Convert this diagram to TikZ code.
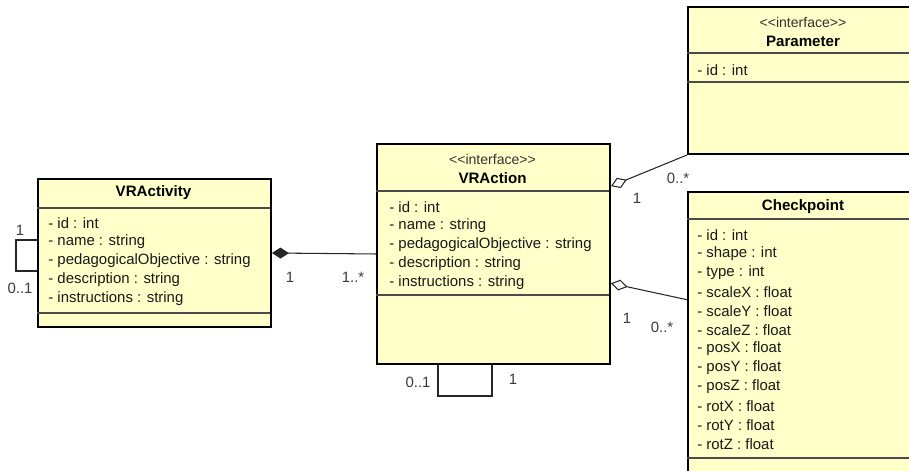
\documentclass[tikz,border=0pt]{standalone}
\usepackage{fontspec}
\setmainfont{Liberation Sans}[Ligatures=TeXOff]
\usetikzlibrary{arrows.meta}
\definecolor{classfill}{HTML}{FFFFCA}
\definecolor{sepgray}{HTML}{4A4A4A}
\definecolor{multgray}{HTML}{3A3A3A}
\tikzset{
    classbox/.style={draw=black, line width=1.15pt, fill=classfill, inner sep=0pt, anchor=north west},
    sep/.style={draw=sepgray, line width=0.6pt},
    cname/.style={inner sep=0pt, font=\fontsize{8.6}{10}\selectfont\bfseries},
    stereo/.style={inner sep=0pt, font=\fontsize{8}{10}\selectfont, text=black!80},
    attr/.style={anchor=west, inner sep=0pt, font=\fontsize{8.5}{10}\selectfont, text=black!90},
    mult/.style={inner sep=0pt, font=\fontsize{8.5}{10}\selectfont, text=multgray},
    assoc/.style={draw=black!85, line width=0.6pt},
}

\begin{document}
\begin{tikzpicture}[x=0.02cm,y=0.02cm]
    \clip (0,0) rectangle (909,470);

    % VRActivity
    \node[classbox, minimum width=4.66cm, minimum height=2.96cm] (act) at (37,292) {};
    \draw[sep] (37,262) -- (270,262);
    \draw[sep] (37,157) -- (270,157);
    \node[cname] (act-name) at (153.5,277) {VRActivity};
    \foreach \t [count=\i] in {- id : int, - name : string, - pedagogicalObjective : string,
        - description : string, - instructions : string}
        \node[attr] (act-\i) at (48,266-19*\i) {\t};

    % VRAction
    \node[classbox, minimum width=4.66cm, minimum height=4.4cm] (action) at (376,327) {};
    \draw[sep] (376,279) -- (609,279);
    \draw[sep] (376,175) -- (609,175);
    \node[stereo] (action-st) at (492.5,311) {<<interface>>};
    \node[cname] (action-name) at (492.5,292) {VRAction};
    \foreach \t [count=\i] in {- id : int, - name : string, - pedagogicalObjective : string,
        - description : string, - instructions : string}
        \node[attr] (action-\i) at (389,282-19*\i) {\t};

    % Parameter
    \node[classbox, minimum width=4.64cm, minimum height=2.94cm] (param) at (687,464) {};
    \draw[sep] (687,417) -- (919,417);
    \draw[sep] (687,388) -- (919,388);
    \node[stereo] (param-st) at (803,448) {<<interface>>};
    \node[cname] (param-name) at (803,429) {Parameter};
    \node[attr] (param-1) at (697,400) {- id : int};

    % Checkpoint
    \node[classbox, minimum width=4.64cm, minimum height=5.74cm] (chk) at (687,279) {};
    \draw[sep] (687,251) -- (919,251);
    \draw[sep] (687,12) -- (919,12);
    \node[cname] (chk-name) at (803,263) {Checkpoint};
    \foreach \t [count=\i] in {- id : int, - shape : int, - type : int, - scaleX : float,
        - scaleY : float, - scaleZ : float, - posX : float, - posY : float, - posZ : float,
        - rotX : float, - rotY : float, - rotZ : float}
        \node[attr] (chk-\i) at (697,254-19*\i) {\t};

    % self associations
    \draw[assoc] (act.west |- 0,230) -- ++(-21,0) |- (act.west |- 0,199);
    \node[mult] (act-m1) at (20,240) {1};
    \node[mult] (act-m2) at (20,182) {0..1};
    \draw[assoc] (action.south -| 438,0) -- ++(0,-31) -| (action.south -| 492,0);
    \node[mult] (action-m1) at (418,88) {0..1};
    \node[mult] (action-m2) at (513,91) {1};

    % composition
    \draw[assoc, {Diamond[length=0.34cm,width=0.22cm]}-] (act.east) -- (action.west);
    \node[mult] (comp-m1) at (290,193) {1};
    \node[mult] (comp-m2) at (353,193) {1..*};

    % aggregations
    \draw[assoc, {Diamond[open,fill=white,length=0.34cm,width=0.22cm]}-] (action.30) -- (param.south west);
    \node[mult] (agg1-m1) at (637,272) {1};
    \node[mult] (agg1-m2) at (678,292) {0..*};
    \draw[assoc, {Diamond[open,fill=white,length=0.34cm,width=0.22cm]}-] (action.-14.4) -- (chk.163.4);
    \node[mult] (agg2-m1) at (627,152) {1};
    \node[mult] (agg2-m2) at (662,143) {0..*};
\end{tikzpicture}
\end{document}
